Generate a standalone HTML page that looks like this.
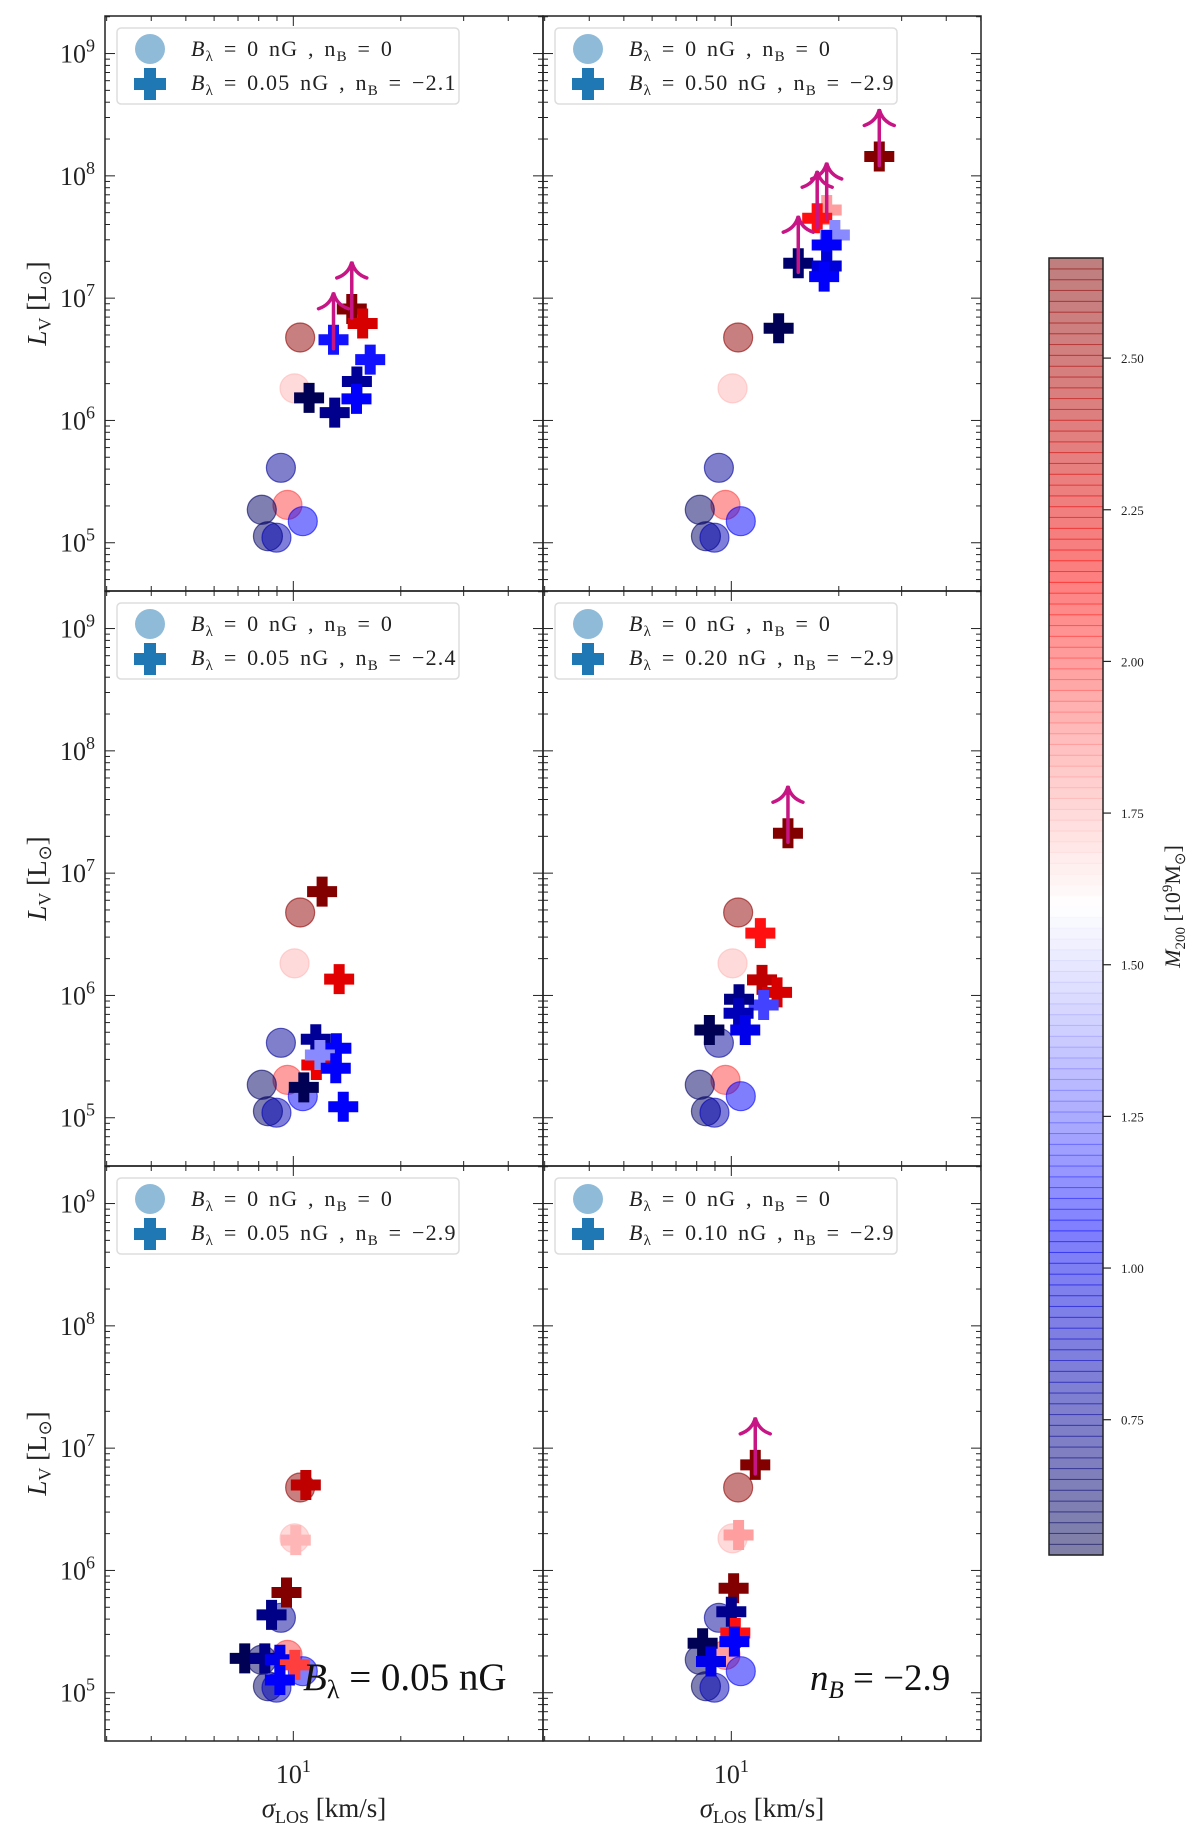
<!DOCTYPE html>
<html><head><meta charset="utf-8"><style>
body{margin:0;background:#fff}
svg{display:block;font-family:"Liberation Serif",serif}
</style></head><body>
<svg id="fig" width="1200" height="1823" viewBox="0 0 1200 1823" xmlns="http://www.w3.org/2000/svg"></svg>
<script>
// ---- data ----
const circX=[10.45,10.08,9.23,9.63,8.16,10.63,8.49,8.97];
const circY=[4.77e6,1.83e6,4.1e5,2.04e5,1.86e5,1.5e5,1.13e5,1.1e5];
const circM=[2.6,1.75,0.75,2.0,0.6,1.05,0.6,0.85];

const p1X=[14.58,15.64,12.96,16.42,15.07,15.03,11.07,13.06];
const p1Y=[8.16e6,6.2e6,4.57e6,3.14e6,2.08e6,1.5e6,1.53e6,1.16e6];
const p1M=[2.65,2.3,1.1,1.1,0.75,1.05,0.55,0.72];
const p1A=[1,0,1,0,0,0,0,0];

const p2X=[25.97,18.5,17.4,19.5,18.5,15.4,18.5,18.2,13.57];
const p2Y=[1.44e8,5.26e7,4.5e7,3.28e7,2.72e7,1.93e7,1.83e7,1.5e7,5.67e6];
const p2M=[2.65,1.8,2.1,1.35,1.05,0.62,0.95,1.05,0.55];
const p2A=[1,1,1,0,0,1,0,0,0];

const p3X=[12.04,13.44,11.56,11.6,13.2,11.87,13.15,10.7,13.8];
const p3Y=[7.06e6,1.36e6,4.38e5,2.7e5,3.7e5,3.26e5,2.54e5,1.77e5,1.23e5];
const p3M=[2.65,2.25,0.75,2.2,1.05,1.35,1.05,0.55,1.05];
const p3A=[0,0,0,0,0,0,0,0,0];

const p4X=[14.41,12.06,12.19,13.43,12.32,10.51,10.48,10.94,8.68];
const p4Y=[2.12e7,3.23e6,1.34e6,1.06e6,8.36e5,9.3e5,7.15e5,5.22e5,5.22e5];
const p4M=[2.65,2.1,2.4,2.3,1.2,0.7,0.85,1.0,0.55];
const p4A=[1,0,0,0,0,0,0,0,0];

const p5X=[10.84,10.16,9.57,8.69,7.31,8.32,9.17,10.1,9.17];
const p5Y=[5.0e6,1.77e6,6.6e5,4.33e5,1.91e5,1.91e5,1.86e5,1.69e5,1.27e5];
const p5M=[2.4,1.75,2.65,0.7,0.55,0.7,1.0,2.0,1.05];
const p5A=[0,0,0,0,0,0,0,0,0];

const p6X=[11.67,10.48,10.15,10.0,10.26,10.2,8.31,8.77];
const p6Y=[7.3e6,1.95e6,7.16e5,4.6e5,3.08e5,2.62e5,2.54e5,1.8e5];
const p6M=[2.65,1.8,2.65,0.72,2.1,1.05,0.55,1.0];
const p6A=[1,0,0,0,0,0,0,0];

const legendB=["0.05","0.50","0.05","0.20","0.05","0.10"];
const legendN=["\u22122.1","\u22122.9","\u22122.4","\u22122.9","\u22122.9","\u22122.9"];
const cbTicks=[0.75,1.00,1.25,1.50,1.75,2.00,2.25,2.50];
const yTickExp=[5,6,7,8,9];

const crossSets=[[p1X,p1Y,p1M,p1A],[p2X,p2Y,p2M,p2A],[p3X,p3Y,p3M,p3A],[p4X,p4Y,p4M,p4A],[p5X,p5Y,p5M,p5A],[p6X,p6Y,p6M,p6A]];

// ---- helpers ----
const NS="http://www.w3.org/2000/svg";
const svg=document.getElementById('fig');
function mk(tag,attrs,parent){const e=document.createElementNS(NS,tag);for(const k in attrs)e.setAttribute(k,attrs[k]);(parent||svg).appendChild(e);return e;}
const MMIN=0.527,MMAX=2.665;
function seismic(m){let t=(m-MMIN)/(MMAX-MMIN);t=Math.max(0,Math.min(1,t));
 const st=[[0,[0,0,0.3]],[0.25,[0,0,1]],[0.5,[1,1,1]],[0.75,[1,0,0]],[1,[0.5,0,0]]];
 for(let i=0;i<4;i++){const a=st[i],b=st[i+1];if(t<=b[0]){const f=(t-a[0])/(b[0]-a[0]);return 'rgb('+a[1].map((c,j)=>Math.round(255*(c+(b[1][j]-c)*f))).join(',')+')';}}
 return 'rgb(128,0,0)';}
const PW=438,PH=575,LOGXMIN=0.4725,LOGYMAX=9.307,DX=357,DY=122.3;
const lefts=[105,543],tops=[16,591,1166];

for(let p=0;p<6;p++){
 const L=lefts[p%2],T=tops[Math.floor(p/2)];
 const xS=v=>L+(Math.log10(v)-LOGXMIN)*DX;
 const yS=v=>T+(LOGYMAX-Math.log10(v))*DY;
 const g=mk('g',{});
 
 
 const clipId='clip'+p;
 const cp=mk('clipPath',{id:clipId},g);mk('rect',{x:L,y:T,width:PW,height:PH},cp);
 for(let e=4;e<=9;e++){for(let k=1;k<=9;k++){const v=k*Math.pow(10,e);const yy=yS(v);if(yy<T||yy>T+PH)continue;const len=k==1?10:5;
   mk('line',{x1:L,x2:L+len,y1:yy,y2:yy,stroke:'#222','stroke-width':1},g);
   mk('line',{x1:L+PW,x2:L+PW-len,y1:yy,y2:yy,stroke:'#222','stroke-width':1},g);}}
 for(let e=0;e<=1;e++){for(let k=1;k<=9;k++){const v=k*Math.pow(10,e);const xx=xS(v);if(xx<L||xx>L+PW)continue;const len=k==1?10:5;
   mk('line',{x1:xx,x2:xx,y1:T,y2:T+len,stroke:'#222','stroke-width':1},g);
   mk('line',{x1:xx,x2:xx,y1:T+PH,y2:T+PH-len,stroke:'#222','stroke-width':1},g);}}
 if(p%2==0){yTickExp.forEach(e=>{const t=mk('text',{x:L-10,y:yS(Math.pow(10,e))+9,'font-size':26,'text-anchor':'end',fill:'#222'},g);
   
   t.innerHTML='10<tspan dy="-11" font-size="18">'+e+'</tspan>';});
   const yl=mk('text',{transform:'translate(46,'+(T+PH/2)+') rotate(-90)','text-anchor':'middle','font-size':27,fill:'#222'},g);
   
   yl.innerHTML='<tspan font-style="italic">L</tspan><tspan font-size="18" dy="5">V</tspan><tspan dy="-5"> [L</tspan><tspan font-size="18" dy="5">\u2299</tspan><tspan dy="-5">]</tspan>';}
 if(p>=4){const t=mk('text',{x:xS(10),y:T+PH+42,'font-size':26,'text-anchor':'middle',fill:'#222'},g);
   
   t.innerHTML='10<tspan dy="-11" font-size="18">1</tspan>';
   const xl=mk('text',{x:L+PW/2,y:T+PH+76,'font-size':27,'text-anchor':'middle',fill:'#222'},g);
   
   xl.innerHTML='<tspan font-style="italic">\u03c3</tspan><tspan font-size="18" dy="6">LOS</tspan><tspan dy="-6"> [km/s]</tspan>';}
 const dg=mk('g',{'clip-path':'url(#'+clipId+')'},g);
 for(let i=0;i<circX.length;i++){const c=seismic(circM[i]);
   const el=mk('circle',{cx:xS(circX[i]),cy:yS(circY[i]),r:14.5,fill:c,'fill-opacity':0.5,stroke:c,'stroke-opacity':0.6,'stroke-width':1.2},dg);
   }
 const [cx,cy,cm,ca]=crossSets[p];
 for(let i=0;i<cx.length;i++){const X=xS(cx[i]),Y=yS(cy[i]),c=seismic(cm[i]),h=15,w=5.5;
   const el=mk('path',{d:`M${X-w},${Y-h}h${2*w}v${h-w}h${h-w}v${2*w}h${-(h-w)}v${h-w}h${-2*w}v${-(h-w)}h${-(h-w)}v${-2*w}h${h-w}z`,fill:c},dg);
   }
 for(let i=0;i<cx.length;i++){if(!ca[i])continue;const X=xS(cx[i]),Y=yS(cy[i]);
   const a=mk('path',{d:`M${X},${Y+9}V${Y-46}M${X-15},${Y-31}Q${X-3},${Y-35} ${X},${Y-47}Q${X+3},${Y-35} ${X+15},${Y-31}`,fill:'none',stroke:'#c71585','stroke-width':3.5,'stroke-linecap':'round'},dg);
   }
 mk('rect',{x:L,y:T,width:PW,height:PH,fill:'none',stroke:'#222','stroke-width':1.5},g);
 const lg=mk('g',{},g);
 mk('rect',{x:L+12,y:T+12,width:342,height:76,rx:4,fill:'#fff','fill-opacity':0.85,stroke:'#ddd','stroke-width':1.5},lg);
 mk('circle',{cx:L+45,cy:T+33,r:15,fill:'#1f77b4','fill-opacity':0.5},lg);
 mk('path',{d:`M${L+39},${T+52}h12v10h10v12h-10v10h-12v-10h-10v-12h10z`,fill:'#1f77b4'},lg);
 const t1=mk('text',{x:L+86,y:T+40,'font-size':22,fill:'#222','letter-spacing':1.2,'word-spacing':3},lg);
 t1.innerHTML='<tspan font-style="italic">B</tspan><tspan font-size="15" dy="5">\u03bb</tspan><tspan dy="-5"> = 0 nG , n</tspan><tspan font-size="15" dy="5">B</tspan><tspan dy="-5"> = 0</tspan>';
 const t2=mk('text',{x:L+86,y:T+74,'font-size':22,fill:'#222','letter-spacing':1.2,'word-spacing':3},lg);
 t2.innerHTML='<tspan font-style="italic">B</tspan><tspan font-size="15" dy="5">\u03bb</tspan><tspan dy="-5"> = '+legendB[p]+' nG , n</tspan><tspan font-size="15" dy="5">B</tspan><tspan dy="-5"> = '+legendN[p]+'</tspan>';
}
const a1=mk('text',{x:303,y:1690,'font-size':39,fill:'#111'});

a1.innerHTML='<tspan font-style="italic">B</tspan><tspan font-size="26" dy="8">\u03bb</tspan><tspan dy="-8"> = 0.05 nG</tspan>';
const a2=mk('text',{x:810,y:1690,'font-size':37,fill:'#111'});

a2.innerHTML='<tspan font-style="italic">n</tspan><tspan font-size="25" dy="8" font-style="italic">B</tspan><tspan dy="-8"> = \u22122.9</tspan>';
const CB={x:1049,y:258,w:54,h:1297};
const cbY=m=>CB.y+(MMAX-m)/(MMAX-MMIN)*CB.h;
const cbg=mk('g',{});
const N=120;
for(let i=0;i<N;i++){const m=MMAX-(i+0.5)*(MMAX-MMIN)/N;const yy=CB.y+i*CB.h/N;
 mk('rect',{x:CB.x,y:yy,width:CB.w,height:CB.h/N+0.6,fill:seismic(m),'fill-opacity':0.5},cbg);
 mk('line',{x1:CB.x,x2:CB.x+CB.w,y1:yy,y2:yy,stroke:seismic(m),'stroke-opacity':0.35,'stroke-width':1},cbg);}
mk('rect',{x:CB.x,y:CB.y,width:CB.w,height:CB.h,fill:'none',stroke:'#222','stroke-width':1.5},cbg);
cbTicks.forEach(v=>{const yy=cbY(v);mk('line',{x1:CB.x+CB.w,x2:CB.x+CB.w+8,y1:yy,y2:yy,stroke:'#222','stroke-width':1.2},cbg);
 const t=mk('text',{x:CB.x+CB.w+18,y:yy+5,'font-size':13,fill:'#222'},cbg);t.textContent=v.toFixed(2);
 });
const cl=mk('text',{transform:'translate(1180,'+(CB.y+CB.h/2)+') rotate(-90)','text-anchor':'middle','font-size':22,fill:'#222'});

cl.innerHTML='<tspan font-style="italic">M</tspan><tspan font-size="15" dy="5">200</tspan><tspan dy="-5"> [10</tspan><tspan font-size="15" dy="-8">9</tspan><tspan dy="8">M</tspan><tspan font-size="15" dy="5">\u2299</tspan><tspan dy="-5">]</tspan>';
</script>
</body></html>
